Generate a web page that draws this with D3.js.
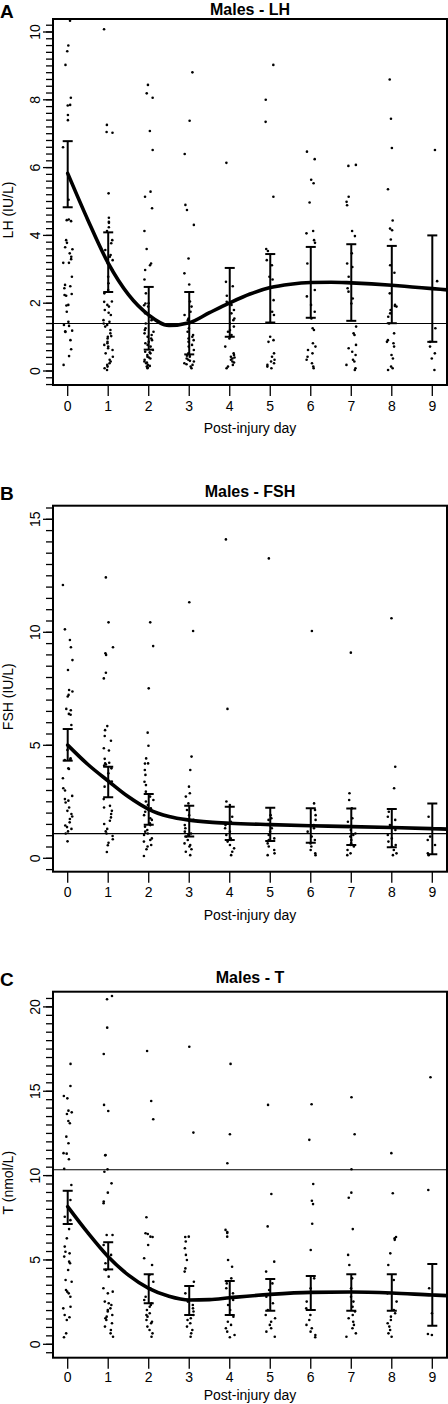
<!DOCTYPE html>
<html><head><meta charset="utf-8">
<script src="https://cdn.jsdelivr.net/npm/d3@7"></script>
<style>body{margin:0;background:#fff}svg{display:block}text{font-family:"Liberation Sans",Arial,Helvetica,sans-serif}</style>
</head><body><div id="chart"></div>
<script>
const days = [0,1,2,3,4,5,6,7,8,9];
const dayLabels = ["0","1","2","3","4","5","6","7","8","9"];

// ---- Panel A: LH ----
const lhPoints = [
 [10.33,9.6,9.43,9.03,8.06,7.85,7.83,7.55,7.4,6.6,5.05,4.47,4.45,4.42,3.86,3.78,3.65,3.59,3.47,3.37,3.3,3.19,3.19,2.78,2.54,2.5,2.44,2.27,2.24,2.22,1.95,1.93,1.75,1.45,1.36,1.33,1.19,1.17,1.15,0.91,0.64,0.44,0.18],
 [10.08,7.26,7.05,7.03,5.24,4.52,4.4,4.37,4.24,4.13,3.86,3.77,3.57,3.42,3.37,3.27,3.17,2.98,2.78,2.59,2.39,2.29,2.04,1.95,2.05,1.9,1.8,1.72,1.65,1.5,1.45,1.4,1.36,1.31,1.21,1.11,1.03,1.01,0.96,0.86,0.82,0.77,0.72,0.67,0.62,0.52,0.42,0.33,0.28,0.23,0.18,0.13,0.08,0.03],
 [8.44,8.19,8.06,7.08,6.52,5.29,5.14,4.8,4.13,3.6,3.17,3.12,2.98,2.7,2.29,2.0,1.9,1.99,1.94,1.7,1.6,1.5,1.4,1.26,1.21,1.16,1.11,1.06,1.01,0.96,0.91,0.86,0.82,0.77,0.72,0.62,0.57,0.52,0.47,0.42,0.37,0.33,0.28,0.23,0.18,0.13,0.08,0.1,0.15,0.25,0.4,0.55],
 [8.81,7.38,6.4,4.9,4.75,4.31,3.32,2.88,2.55,2.05,1.9,1.75,1.65,1.55,1.5,1.4,1.26,1.16,1.06,1.01,0.96,0.91,0.86,0.77,0.72,0.62,0.52,0.47,0.42,0.37,0.33,0.28,0.23,0.18,0.13,0.08,0.45,0.3,0.2],
 [6.14,2.63,2.5,2.22,2.04,1.95,1.8,1.7,1.55,1.5,1.4,1.31,1.21,1.16,1.06,1.01,0.96,0.72,0.52,0.47,0.42,0.37,0.33,0.28,0.18,0.13,0.08,0.25,0.4],
 [9.03,8.0,7.35,5.14,3.6,3.54,3.27,3.12,2.78,2.7,2.09,1.75,1.65,1.01,0.91,0.86,0.52,0.42,0.33,0.28,0.23,0.18,0.13,0.08],
 [6.47,6.25,5.64,5.54,4.97,4.13,4.06,3.86,3.78,3.17,2.39,2.2,1.95,1.75,1.55,1.26,1.21,0.82,0.72,0.62,0.52,0.42,0.33,0.23,0.13,0.08],
 [6.08,6.05,5.14,4.99,4.89,4.13,3.98,3.47,3.17,3.07,2.78,2.59,2.44,2.34,2.14,1.99,1.31,1.11,1.06,0.77,0.67,0.57,0.47,0.33,0.28,0.18,0.08,0.03],
 [8.6,7.44,6.58,5.36,4.44,4.2,4.15,3.88,3.12,2.9,2.29,1.92,1.95,1.9,1.8,1.7,1.6,1.4,1.11,0.91,0.86,0.82,0.72,0.47,0.37,0.13,0.08,0.03],
 [6.52,2.65,1.26,0.86,0.72,0.52,0.37,0.03]
];
const lhLow  = [4.83,2.33,0.63,0.49,1.01,1.43,1.57,1.48,1.41,0.86];
const lhHigh = [6.78,4.09,2.48,2.33,3.04,3.45,3.66,3.74,3.69,4.00];
const lhFitX = [0,0.5,1,1.5,2,2.5,3,3.5,4,4.5,5,5.5,6,6.5,7,7.5,8,8.5,9,9.4];
const lhFitY = [5.83,4.45,3.18,2.25,1.65,1.34,1.42,1.72,2.01,2.27,2.46,2.56,2.61,2.62,2.60,2.57,2.53,2.48,2.43,2.39];
const lhRef = 1.4;
const lhTicks = [0,2,4,6,8,10];

// ---- Panel B: FSH ----
const fshPoints = [
 [12.09,10.13,9.66,9.34,8.77,8.33,7.45,7.38,7.23,7.16,6.61,6.55,6.39,6.35,5.9,4.79,4.42,4.38,3.98,4.35,3.95,3.54,3.1,3.0,2.76,2.62,2.55,2.47,2.25,2.1,1.96,1.85,1.74,1.59,1.45,1.38,1.3,1.19,1.1,0.75],
 [12.43,10.44,9.34,9.07,9.0,8.21,7.96,5.85,5.67,5.41,5.2,4.87,4.77,4.4,4.23,4.15,4.1,4.2,3.98,3.76,3.4,3.17,2.62,2.32,2.25,2.1,1.96,1.81,1.66,1.52,1.3,1.19,1.1,0.99,0.84,0.69,0.58,0.28],
 [10.44,9.39,7.52,5.56,4.98,4.42,4.19,4.2,3.91,3.69,3.39,3.24,2.95,2.73,2.58,2.51,2.36,2.21,2.06,1.91,1.77,1.7,1.55,1.47,1.4,1.25,1.18,1.1,1.03,0.88,0.81,0.74,0.59,0.52,0.4,0.1],
 [11.33,10.06,4.5,3.91,3.17,2.88,2.73,2.43,2.14,1.91,1.7,1.47,1.33,1.18,1.1,1.03,0.96,0.81,0.66,0.59,0.52,0.4,0.29,0.14],
 [14.11,6.61,2.51,2.36,1.84,1.62,1.47,1.33,1.18,1.03,0.88,0.81,0.74,0.59,0.44,0.29,0.14],
 [13.27,1.91,1.77,1.7,1.47,1.33,1.18,1.03,0.88,0.81,0.66,0.52,0.37,0.22,0.14],
 [10.06,2.43,2.14,1.91,1.7,1.47,1.33,1.18,0.96,0.81,0.66,0.52,0.37,0.22,0.14],
 [9.1,2.88,2.58,2.21,1.77,1.62,1.4,1.25,1.1,1.03,0.96,0.81,0.66,0.59,0.52,0.37,0.22,0.14],
 [10.62,4.05,3.1,2.06,1.84,1.7,1.47,1.25,1.03,0.88,0.74,0.59,0.52,0.37,0.22,0.14],
 [1.84,0.96,0.81,0.59,0.22,0.14,1.3]
];
const fshLow  = [4.32,2.70,1.48,0.96,0.81,0.77,0.69,0.59,0.49,0.18];
const fshHigh = [5.72,4.05,2.85,2.33,2.28,2.24,2.21,2.20,2.18,2.43];
const fshFitX = [0,0.5,1,1.5,2,2.5,3,3.5,4,5,6,7,8,9,9.4];
const fshFitY = [5.01,4.15,3.42,2.72,2.17,1.85,1.69,1.60,1.55,1.49,1.44,1.40,1.36,1.31,1.29];
const fshRef = 1.09;
const fshTicks = [0,5,10,15];

// ---- Panel C: T ----
const tPoints = [
 [16.62,15.31,14.72,14.58,13.85,13.75,13.65,13.24,13.1,12.31,11.92,11.33,11.3,10.97,10.4,9.44,8.55,7.56,7.36,6.83,6.28,5.79,5.49,5.39,5.2,4.9,4.8,4.4,3.81,3.71,3.22,3.12,3.02,2.82,2.23,2.13,1.74,1.6,1.44,0.65,0.42],
 [20.65,20.45,18.77,17.21,14.19,13.83,11.22,11.2,10.38,10.23,9.54,8.99,8.46,8.36,6.48,6.48,5.89,5.3,4.8,4.41,4.01,3.32,3.12,3.02,2.53,2.43,2.33,2.13,2.03,1.94,1.74,1.64,1.54,1.44,1.25,1.05,0.85,0.65,0.45],
 [17.39,14.42,13.34,7.53,6.54,6.36,6.58,6.38,5.89,5.1,4.7,4.11,3.71,3.32,2.82,2.63,2.43,2.33,2.23,2.03,1.84,1.74,1.64,1.44,1.34,1.25,1.05,0.85,0.65,0.45],
 [17.64,12.55,6.36,6.38,6.09,5.69,5.3,5.0,4.5,4.31,3.71,3.02,2.53,2.33,2.13,1.94,1.74,1.54,1.44,1.25,1.05,0.85,0.65,0.45],
 [16.62,12.45,10.73,6.66,6.6,6.78,6.38,5.0,4.6,3.91,3.61,3.32,3.02,2.63,2.33,2.03,1.64,1.34,1.15,0.95,0.75,0.55,0.42],
 [14.19,8.91,6.99,4.9,4.31,3.61,3.22,2.82,2.43,2.03,1.74,1.54,1.34,1.15,0.95,0.75,0.45],
 [14.23,12.12,9.5,8.51,8.31,7.15,5.59,3.91,3.32,2.53,2.13,1.74,1.44,1.15,0.95,0.75,0.55,0.42],
 [14.64,12.45,10.38,8.99,8.69,6.83,5.3,4.7,3.91,3.32,2.82,2.53,2.23,1.94,1.74,1.54,1.34,1.15,0.95,0.65,0.45],
 [11.33,8.95,6.36,6.28,6.19,5.39,4.7,3.81,3.02,2.53,2.03,1.84,1.64,1.44,1.25,1.05,0.85,0.65,0.45],
 [15.83,9.15,3.32,1.84,0.61,0.55]
];
const tLow  = [7.13,4.44,2.43,1.74,1.74,1.99,2.03,1.99,1.99,1.10];
const tHigh = [9.10,6.05,4.15,3.46,3.75,3.87,4.05,4.15,4.15,4.76];
const tFitX = [0,0.5,1,1.5,2,2.5,3,3.5,4,5,6,7,8,9,9.4];
const tFitY = [8.16,6.6,5.19,4.1,3.32,2.85,2.63,2.65,2.76,2.96,3.08,3.10,3.04,2.92,2.88];
const tRef = 10.35;
const tTicks = [0,5,10,15,20];

const panels = [
 {letter:"A", title:"Males - LH", ylab:"LH (IU/L)", pts:lhPoints, low:lhLow, high:lhHigh, fx:lhFitX, fy:lhFitY, ref:lhRef, ticks:lhTicks, minor:0.2,
  top:19, bottom:385, y0:371, ppu:33.9, titleY:14.5, tickLabY:411, axTitleY:433},
 {letter:"B", title:"Males - FSH", ylab:"FSH (IU/L)", pts:fshPoints, low:fshLow, high:fshHigh, fx:fshFitX, fy:fshFitY, ref:fshRef, ticks:fshTicks, minor:0.5,
  top:505.7, bottom:871.7, y0:858.3, ppu:22.6, titleY:497, tickLabY:897, axTitleY:920},
 {letter:"C", title:"Males - T", ylab:"T (nmol/L)", pts:tPoints, low:tLow, high:tHigh, fx:tFitX, fy:tFitY, ref:tRef, ticks:tTicks, minor:0.5,
  top:991.7, bottom:1357.7, y0:1344.3, ppu:16.87, titleY:983, tickLabY:1382, axTitleY:1400}
];

const W = 448, H = 1404, L = 53, R = 447;
const svg = d3.select("#chart").append("svg").attr("width", W).attr("height", H);
const x = d3.scaleLinear().domain([0, 9]).range([67.7, 432.3]);
// deterministic scatter jitter (layout only)
const jit = (i, d) => { const s = Math.sin((i + 1) * 12.9898 + (d + 1) * 78.233) * 43758.5453; return (s - Math.floor(s) - 0.5) * 0.24; };

panels.forEach((p, pi) => {
  const yMin = (p.y0 - p.bottom) / p.ppu, yMax = (p.y0 - p.top) / p.ppu;
  const y = d3.scaleLinear().domain([yMin, yMax]).range([p.bottom, p.top]);
  const g = svg.append("g");
  const cid = "clip" + pi;
  svg.append("clipPath").attr("id", cid).append("rect")
    .attr("x", L).attr("y", p.top).attr("width", R - L).attr("height", p.bottom - p.top);
  const inner = g.append("g").attr("clip-path", `url(#${cid})`);

  inner.append("line").attr("x1", L).attr("x2", R).attr("y1", y(p.ref)).attr("y2", y(p.ref))
    .attr("stroke", "#000").attr("stroke-width", 1.1);

  p.pts.forEach((vals, di) => {
    inner.append("g").selectAll("circle").data(vals).join("circle")
      .attr("cx", (v, i) => x(days[di] + jit(i, di + pi * 10)))
      .attr("cy", v => y(v)).attr("r", 1.3).attr("fill", "#000");
  });

  const eb = inner.append("g").attr("stroke", "#000").attr("stroke-width", 2);
  days.forEach((d, i) => {
    eb.append("line").attr("x1", x(d)).attr("x2", x(d)).attr("y1", y(p.low[i])).attr("y2", y(p.high[i]));
    [p.low[i], p.high[i]].forEach(v => eb.append("line")
      .attr("x1", x(d) - 5).attr("x2", x(d) + 5).attr("y1", y(v)).attr("y2", y(v)));
  });

  inner.append("path").datum(p.fx.map((xx, i) => [xx, p.fy[i]]))
    .attr("d", d3.line().x(d => x(d[0])).y(d => y(d[1])).curve(d3.curveMonotoneX))
    .attr("fill", "none").attr("stroke", "#000").attr("stroke-width", 3.6).attr("stroke-linecap", "round");

  g.append("rect").attr("x", L).attr("y", p.top).attr("width", R - L).attr("height", p.bottom - p.top)
    .attr("fill", "none").attr("stroke", "#000").attr("stroke-width", 2);

  const minorTicks = d3.range(Math.ceil(yMin / p.minor) * p.minor, yMax + 1e-9, p.minor);
  g.append("g").selectAll("line").data(minorTicks).join("line")
    .attr("x1", L - 7).attr("x2", L).attr("y1", v => y(v)).attr("y2", v => y(v))
    .attr("stroke", "#000").attr("stroke-width", 1.3);
  g.append("g").selectAll("line").data(p.ticks).join("line")
    .attr("x1", L - 10).attr("x2", L).attr("y1", v => y(v)).attr("y2", v => y(v))
    .attr("stroke", "#000").attr("stroke-width", 1.3);
  g.append("g").selectAll("text").data(p.ticks).join("text")
    .attr("transform", v => `translate(40,${y(v)}) rotate(-90)`)
    .attr("text-anchor", "middle").attr("font-size", 14).text(v => v);

  g.append("g").selectAll("line").data(days).join("line")
    .attr("x1", d => x(d)).attr("x2", d => x(d)).attr("y1", p.bottom).attr("y2", p.bottom + 11)
    .attr("stroke", "#000").attr("stroke-width", 1.3);
  g.append("g").selectAll("text").data(days).join("text")
    .attr("x", d => x(d)).attr("y", p.tickLabY).attr("text-anchor", "middle").attr("font-size", 14)
    .text((d, i) => dayLabels[i]);
  g.append("text").attr("x", 250).attr("y", p.axTitleY).attr("text-anchor", "middle")
    .attr("font-size", 14).text("Post-injury day");

  g.append("text").attr("transform", `translate(13,${(p.top + p.bottom) / 2 + 8}) rotate(-90)`)
    .attr("text-anchor", "middle").attr("font-size", 14).text(p.ylab);

  g.append("text").attr("x", 250).attr("y", p.titleY).attr("text-anchor", "middle")
    .attr("font-size", 16).attr("font-weight", "bold").text(p.title);
  g.append("text").attr("x", 0).attr("y", p.titleY + 3).attr("font-size", 19)
    .attr("font-weight", "bold").text(p.letter);
});
</script></body></html>
